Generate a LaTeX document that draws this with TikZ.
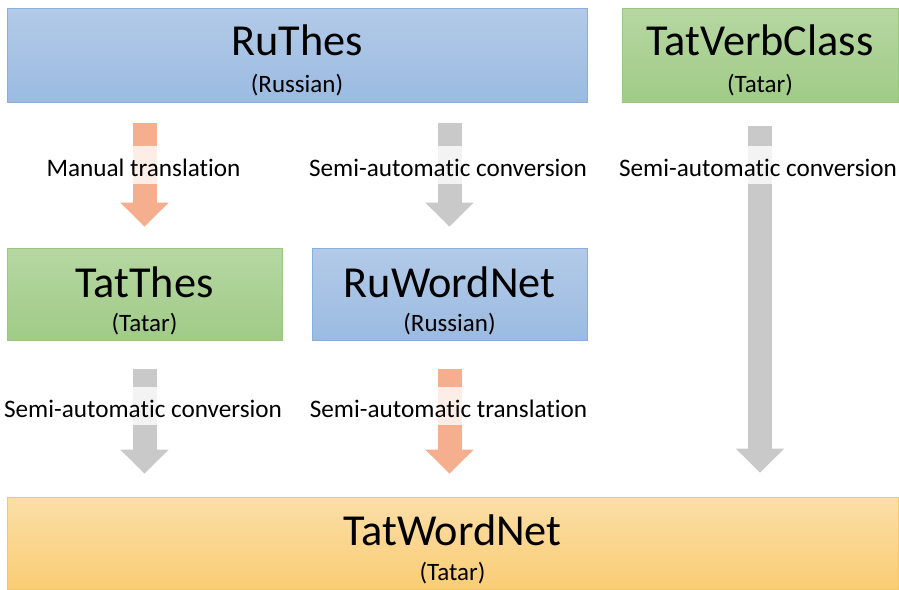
\documentclass[tikz,border=0pt]{standalone}
\usepackage{fontspec}
\setmainfont{Carlito}[Ligatures={NoCommon}]
\usetikzlibrary{arrows.meta}
\definecolor{blueTop}{HTML}{B3CAE8}
\definecolor{blueBot}{HTML}{9BBBE1}
\definecolor{blueLine}{HTML}{8AAEDC}
\definecolor{greenTop}{HTML}{B6D7A2}
\definecolor{greenBot}{HTML}{A0CB87}
\definecolor{greenLine}{HTML}{9AC67F}
\definecolor{orangeTop}{HTML}{FBDEA8}
\definecolor{orangeBot}{HTML}{F9CD74}
\definecolor{orangeLine}{HTML}{F6C86C}
\definecolor{arrowOrange}{HTML}{F5AE8E}
\definecolor{arrowGray}{HTML}{C9C9C9}
\begin{document}
\begin{tikzpicture}[x=1pt,y=-1pt,
  box/.style={rectangle, inner sep=0pt, line width=0.8pt},
  bluebox/.style={box, draw=blueLine, top color=blueTop, bottom color=blueBot},
  greenbox/.style={box, draw=greenLine, top color=greenTop, bottom color=greenBot},
  orangebox/.style={box, draw=orangeLine, top color=orangeTop, bottom color=orangeBot},
  ttl/.style={font=\fontsize{44.3}{48}\selectfont, inner sep=0pt, anchor=base},
  subttl/.style={font=\fontsize{25}{28}\selectfont, inner sep=0pt, anchor=base},
  lab/.style={font=\fontsize{25.2}{28}\selectfont, anchor=base, fill=white, fill opacity=0.78, text opacity=1, inner xsep=0pt, inner ysep=0pt, text height=30pt, text depth=8pt},
  blockarrow/.style={line width=24pt, -{Triangle[width=47pt,length=24pt]}},
  orangearrow/.style={blockarrow, draw=arrowOrange},
  grayarrow/.style={blockarrow, draw=arrowGray}
]
\useasboundingbox (0,0) rectangle (899,589);

% boxes
\node[bluebox, minimum width=580pt, minimum height=94pt] (ruthes) at (297,55) {};
\node[greenbox, minimum width=276pt, minimum height=94pt] (verb) at (760,55) {};
\node[greenbox, minimum width=275pt, minimum height=92pt] (tatthes) at (144.5,294) {};
\node[bluebox, minimum width=275pt, minimum height=92pt] (ruwn) at (449.5,294) {};
\node[orangebox, minimum width=891pt, minimum height=92pt] (tatwn) at (452.5,543) {};

% box texts
\node[ttl] (ruthesT) at ([yshift=-48pt]ruthes.north) {RuThes};
\node[subttl] (ruthesS) at ([yshift=-85pt]ruthes.north) {(Russian)};
\node[ttl] (verbT) at ([yshift=-48pt]verb.north) {TatVerbClass};
\node[subttl] (verbS) at ([yshift=-85pt]verb.north) {(Tatar)};
\node[ttl] (tatthesT) at ([yshift=-50pt]tatthes.north) {TatThes};
\node[subttl] (tatthesS) at ([yshift=-84pt]tatthes.north) {(Tatar)};
\node[ttl] (ruwnT) at ([yshift=-50pt]ruwn.north) {RuWordNet};
\node[subttl] (ruwnS) at ([yshift=-84pt]ruwn.north) {(Russian)};
\node[ttl] (tatwnT) at ([yshift=-49pt]tatwn.north) {TatWordNet};
\node[subttl] (tatwnS) at ([yshift=-84pt]tatwn.north) {(Tatar)};

% arrows
\draw[orangearrow, shorten <=21pt, shorten >=21pt] (ruthes.south -| tatthes.north) -- (tatthes.north);
\draw[grayarrow, shorten <=21pt, shorten >=21pt] (ruthes.south -| ruwn.north) -- (ruwn.north);
\draw[grayarrow, shorten <=24pt, shorten >=24pt] (verb.south) -- (tatwn.north -| verb.south);
\draw[grayarrow, shorten <=29pt, shorten >=23pt] (tatthes.south) -- (tatwn.north -| tatthes.south);
\draw[orangearrow, shorten <=29pt, shorten >=23pt] (ruwn.south) -- (tatwn.north -| ruwn.south);

% labels
\node[lab] (l1) at (143.5,176) {Manual translation};
\node[lab] (l2) at (448,176) {Semi-automatic conversion};
\node[lab] (l3) at (758,176) {Semi-automatic conversion};
\node[lab] (l4) at (143,417) {Semi-automatic conversion};
\node[lab] (l5) at (448.5,417) {Semi-automatic translation};
\end{tikzpicture}
\end{document}
